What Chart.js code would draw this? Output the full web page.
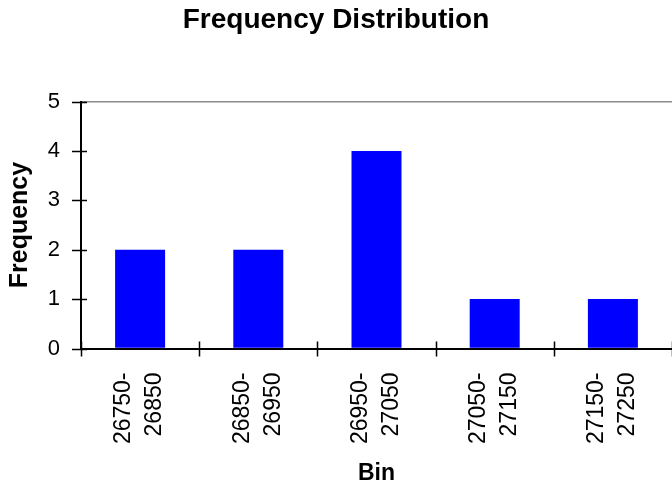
<!DOCTYPE html>
<html>
<head>
<meta charset="utf-8">
<script src="https://cdn.jsdelivr.net/npm/chart.js@4/dist/chart.umd.min.js"></script>
<style>
html,body{margin:0;padding:0;background:#fff;}
#wrap{width:672px;height:486px;}
</style>
</head>
<body>
<div id="wrap"><canvas id="c" width="672" height="486"></canvas></div>
<script>
const categories = [['26750-','26850'],['26850-','26950'],['26950-','27050'],['27050-','27150'],['27150-','27250']];
const frequency = [2, 2, 4, 1, 1];
const yTicks = [0, 1, 2, 3, 4, 5];

const FONT = "'Liberation Sans', Arial, sans-serif";

const crossTicks = {
  id: 'crossTicks',
  afterDraw(chart) {
    const {ctx, scales: {x, y}} = chart;
    ctx.save();
    ctx.strokeStyle = '#000';
    ctx.lineWidth = 1.5;
    ctx.beginPath();
    yTicks.forEach(v => {
      const py = Math.round(y.getPixelForValue(v)) + 0.5;
      ctx.moveTo(x.left - 9, py);
      ctx.lineTo(x.left + 6, py);
    });
    const n = categories.length;
    const half = (x.getPixelForValue(1) - x.getPixelForValue(0)) / 2;
    for (let i = 0; i <= n; i++) {
      const px = Math.round(x.getPixelForValue(i) - half) + 0.5;
      ctx.moveTo(px, y.bottom - 7);
      ctx.lineTo(px, y.bottom + 8);
    }
    ctx.stroke();
    ctx.restore();
  }
};

new Chart(document.getElementById('c'), {
  type: 'bar',
  data: {
    labels: categories,
    datasets: [{
      label: 'Frequency',
      data: frequency,
      backgroundColor: '#0000FF',
      borderWidth: 0,
      categoryPercentage: 1,
      barPercentage: 0.423
    }]
  },
  options: {
    responsive: false,
    animation: false,
    layout: {padding: {left: 0, right: 0, top: 0, bottom: 0}},
    plugins: {
      legend: {display: false},
      tooltip: {enabled: false},
      title: {
        display: true,
        text: 'Frequency Distribution',
        color: '#000',
        font: {family: FONT, size: 28, weight: 'bold', lineHeight: 1.2},
        padding: {top: 3, bottom: 65}
      }
    },
    scales: {
      x: {
        grid: {display: false, drawTicks: false, offset: true},
        border: {display: true, color: '#000', width: 2},
        ticks: {
          color: '#000',
          font: {family: FONT, size: 23, lineHeight: 1.35},
          minRotation: 90,
          maxRotation: 90,
          autoSkip: false,
          padding: 24,
          labelOffset: -16
        },
        title: {
          display: true,
          text: 'Bin',
          color: '#000',
          font: {family: FONT, size: 23, weight: 'bold', lineHeight: 1},
          padding: {top: 0, bottom: 1}
        },
        afterFit(scale) {
          scale.height = 137.5;
          scale.paddingLeft = 0;
          scale.paddingRight = 0;
        }
      },
      y: {
        min: 0,
        max: 5,
        grid: {
          drawTicks: false,
          lineWidth: 1.5,
          color: ctx => (ctx.tick && ctx.tick.value === 5) ? '#8c8c8c' : 'rgba(0,0,0,0)'
        },
        border: {display: true, color: '#000', width: 2},
        ticks: {
          stepSize: 1,
          color: '#000',
          font: {family: FONT, size: 22},
          padding: 21
        },
        title: {
          display: true,
          text: 'Frequency',
          color: '#000',
          font: {family: FONT, size: 25, weight: 'bold', lineHeight: 1.2},
          padding: {top: 5, bottom: 0}
        },
        afterFit(scale) { scale.width = 81; }
      }
    }
  },
  plugins: [crossTicks]
});
</script>
</body>
</html>
